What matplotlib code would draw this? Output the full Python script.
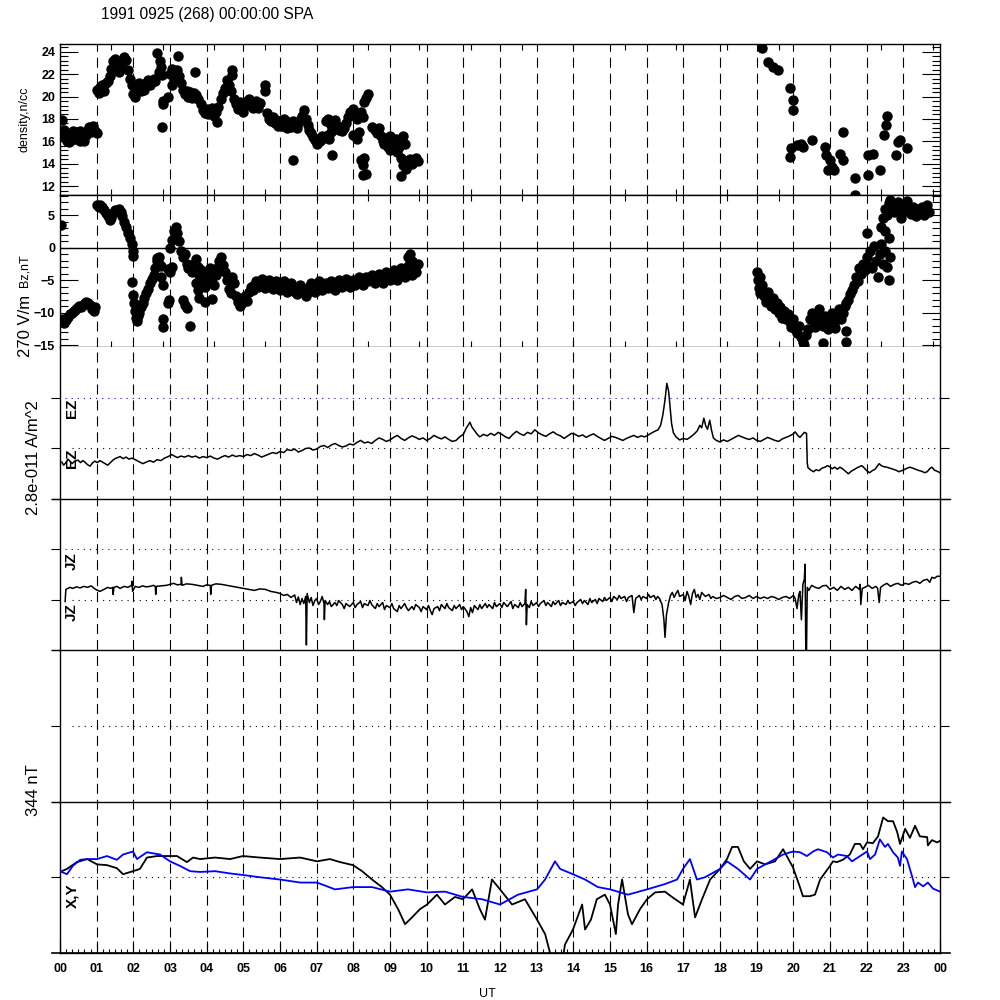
import matplotlib
matplotlib.use("Agg")
import matplotlib.pyplot as plt
import numpy as np

plt.rcParams['font.family'] = ['Liberation Sans', 'DejaVu Sans']
plt.rcParams['lines.scale_dashes'] = False

# density scatter (hour, n/cc)
dens_t = [0.05, 0.1, 0.12, 0.15, 0.2, 0.25, 0.3, 0.35, 0.4, 0.45, 0.5, 0.55, 0.6, 0.65, 0.7, 0.75, 0.8, 0.85, 0.9, 0.95, 1.0, 0.55, 0.35, 0.25,
          1.0, 1.05, 1.1, 1.15, 1.2, 1.25, 1.3, 1.35, 1.4, 1.45, 1.5, 1.55, 1.6, 1.65, 1.7, 1.75, 1.8, 1.85, 1.9, 1.95, 2.0, 2.05, 2.1, 2.15,
          2.2, 2.25, 2.3, 2.35, 2.4, 2.45, 2.5, 2.55, 2.6, 2.65, 2.7, 2.72, 2.75, 2.78, 2.8, 2.82, 2.78, 2.95,
          3.0, 3.05, 3.1, 3.15, 3.2, 3.25, 3.3, 3.05, 3.22, 3.35, 3.4, 3.45, 3.5, 3.55, 3.6, 3.65, 3.7, 3.75, 3.68,
          3.85, 3.9, 3.95, 4.0, 4.05, 4.1, 4.15, 4.2, 4.25, 4.3, 4.28, 4.4, 4.45, 4.5, 4.55, 4.6, 4.65, 4.68, 4.7,
          4.75, 4.8, 4.85, 4.9, 4.95, 5.0, 5.05, 5.1, 5.15, 5.2, 5.25, 5.3, 5.35, 5.4, 5.45, 5.58, 5.6,
          5.65, 5.7, 5.75, 5.8, 5.85, 5.9, 5.95, 6.0, 6.05, 6.1, 6.15, 6.2, 6.25, 6.3, 6.35, 6.4, 6.45, 6.5, 6.36,
          6.55, 6.6, 6.65, 6.7, 6.75, 6.8, 6.85, 6.9, 6.95, 7.0, 7.05, 7.1, 7.15, 7.2, 7.3, 7.35, 7.4, 7.42,
          7.25, 7.3, 7.4, 7.45, 7.5, 7.55, 7.6, 7.65, 7.7, 7.75, 7.8, 7.85, 7.9,
          7.95, 8.0, 8.05, 8.1, 8.2, 8.25, 8.3, 8.35, 8.4, 8.2, 8.25, 8.3, 8.27, 8.35, 8.0, 8.1, 8.15,
          8.5, 8.6, 8.65, 8.7, 8.75, 8.8, 8.85, 8.9, 8.95, 9.0, 9.05, 9.1, 9.15, 9.2,
          9.0, 9.1, 9.2, 9.3, 9.35, 9.4, 9.45, 9.5, 9.55, 9.6, 9.65, 9.7, 9.75, 9.3, 9.25, 9.35, 9.4,
          19.15, 19.3, 19.45, 19.58, 19.9, 20.0, 20.0, 19.95, 19.9, 20.1, 20.2, 20.25, 20.5, 20.85, 20.9, 21.0, 21.05, 21.1, 20.95,
          21.35, 21.27, 21.35, 21.68, 21.68, 22.03, 22.17, 22.03, 22.36, 22.55, 22.53, 22.47, 22.85, 22.8, 23.1, 22.9]
dens_v = [17.9, 17.0, 16.5, 16.2, 16.0, 16.4, 16.1, 16.6, 16.2, 16.8, 16.3, 16.9, 16.5, 16.0, 16.6, 17.0, 17.3, 16.8, 17.4, 16.9, 16.7, 16.0, 16.9, 15.9,
          20.6, 20.3, 20.9, 21.0, 20.5, 21.2, 21.4, 21.8, 22.5, 23.2, 23.4, 22.8, 22.2, 23.0, 22.6, 23.5, 23.3, 22.4, 21.6, 21.0, 20.2, 20.0, 20.8, 21.2,
          20.5, 21.0, 20.6, 21.2, 21.5, 21.0, 21.3, 21.6, 21.4, 23.9, 22.2, 23.2, 22.6, 21.9, 19.3, 19.6, 17.3, 20.0,
          22.0, 22.5, 21.5, 22.2, 22.4, 21.8, 21.2, 21.0, 23.6, 20.6, 20.2, 20.5, 20.0, 20.4, 19.9, 20.3, 20.1, 19.8, 22.2,
          19.3, 18.8, 18.5, 18.9, 18.4, 18.7, 19.0, 18.3, 18.6, 19.1, 17.7, 19.8, 20.3, 20.8, 21.5, 21.0, 20.5, 22.4, 21.9,
          19.8, 19.3, 18.9, 19.5, 19.0, 18.6, 19.2, 19.6, 19.8, 19.4, 19.0, 19.3, 19.6, 19.0, 19.4, 21.0, 20.5,
          18.5, 18.0, 17.8, 18.2, 17.6, 17.9, 17.4, 17.8, 17.4, 18.0, 17.5, 17.2, 17.7, 17.3, 17.8, 17.5, 17.2, 17.6, 14.3,
          17.9, 18.3, 18.8, 18.0, 17.5, 17.0, 16.7, 16.4, 16.1, 15.8, 16.2, 16.0, 16.5, 16.3, 16.6, 16.2, 16.8, 14.8,
          17.8, 18.0, 17.5, 17.2, 17.9, 17.4, 17.0, 17.3, 16.9, 17.2, 17.6, 18.2, 18.6,
          18.5, 18.9, 18.3, 18.0, 18.6, 18.2, 19.5, 19.9, 20.2, 14.3, 13.9, 14.5, 13.0, 13.1, 16.6, 16.2, 16.8,
          17.3, 17.0, 16.7, 17.2, 16.5, 16.0, 15.8, 16.3, 15.5, 15.2, 15.9, 15.6, 16.2, 15.0,
          16.5, 15.3, 16.0, 14.5, 13.9, 14.2, 13.5, 14.0, 14.4, 14.0, 14.3, 14.5, 14.2, 12.9, 15.5, 16.5, 15.8,
          24.3, 23.1, 22.6, 22.4, 20.8, 19.7, 18.8, 15.4, 14.6, 15.7, 15.8, 15.5, 16.1, 15.5, 14.8, 14.3, 13.7, 13.4, 13.4,
          16.8, 14.9, 14.3, 12.7, 11.2, 14.8, 14.9, 13.0, 13.4, 18.3, 17.5, 16.6, 15.9, 14.8, 15.4, 16.1]

# Bz scatter (hour, nT)
bz_t = [0.03, 0.08, 0.12, 0.17, 0.22, 0.27, 0.32, 0.37, 0.42, 0.47, 0.52, 0.57, 0.62, 0.67, 0.72, 0.77, 0.82, 0.87, 0.92, 0.95,
        1.0, 1.05, 1.1, 1.15, 1.2, 1.25, 1.3, 1.35, 1.4, 1.45, 1.5, 1.55, 1.6, 1.65, 1.7, 1.75, 1.8, 1.85, 1.9, 1.95, 1.98, 2.0,
        1.97, 2.0, 2.02, 2.05, 2.08, 2.1, 2.12, 2.15, 2.2, 2.25, 2.3, 2.35, 2.4, 2.45, 2.5, 2.55, 2.6, 2.65, 2.7, 2.75,
        2.65, 2.7, 2.75, 2.8, 2.82, 2.8, 2.95, 2.97, 2.95, 3.0, 3.05,
        3.0, 3.05, 3.1, 3.15, 3.2, 3.25, 3.3, 3.35, 3.4, 3.45, 3.5, 3.55, 3.6, 3.65, 3.7, 3.75, 3.8,
        3.35, 3.4, 3.45, 3.7, 3.75, 3.8, 3.55,
        3.85, 3.9, 3.95, 4.0, 4.05, 4.1, 4.15, 4.2, 4.25, 4.3, 4.35, 4.4, 4.45, 4.5, 4.55, 4.6, 4.65, 4.7, 4.75, 4.8, 4.85, 4.9, 4.95, 5.0,
        3.95, 4.15,
        5.05, 5.1, 5.15, 5.2, 5.25, 5.3, 5.35, 5.4, 5.45, 5.5, 5.55, 5.6, 5.65, 5.7, 5.75, 5.8, 5.85, 5.9, 5.95, 6.0,
        6.05, 6.1, 6.15, 6.2, 6.25, 6.3, 6.35, 6.4, 6.45, 6.5, 6.55, 6.6, 6.65, 6.7, 6.75, 6.8, 6.85, 6.9, 6.95, 7.0,
        7.05, 7.1, 7.15, 7.2, 7.25, 7.3, 7.35, 7.4, 7.45, 7.5, 7.55, 7.6, 7.65, 7.7, 7.75, 7.8, 7.85, 7.9, 7.95, 8.0,
        8.05, 8.1, 8.15, 8.2, 8.25, 8.3, 8.35, 8.4, 8.45, 8.5, 8.55, 8.6, 8.65, 8.7, 8.75, 8.8, 8.85, 8.9, 8.95, 9.0,
        9.05, 9.1, 9.15, 9.2, 9.25, 9.3, 9.35, 9.4, 9.45, 9.5, 9.55, 9.6, 9.65, 9.7, 9.75, 9.5, 9.55, 9.6,
        19.0, 19.03, 19.05, 19.08, 19.1, 19.15, 19.2, 19.25, 19.3, 19.35, 19.4, 19.45, 19.5, 19.55, 19.6, 19.65, 19.7, 19.75, 19.8, 19.85,
        19.9, 19.95, 20.0, 20.05, 20.1, 20.15, 20.2, 20.25, 20.3, 20.35, 20.4, 20.45, 20.5, 20.55, 20.6, 20.65, 20.7, 20.75, 20.8, 20.8,
        20.85, 20.9, 20.95, 21.0, 21.05, 21.1, 21.15, 21.2, 21.25, 21.3, 21.35, 21.4, 21.45, 21.45, 21.45, 21.5,
        21.55, 21.6, 21.65, 21.7, 21.75, 21.8, 21.85, 21.9, 21.95, 22.0, 22.0, 22.05, 22.1, 22.15, 22.2, 22.25, 22.3, 22.35, 22.4, 22.4,
        22.45, 22.5, 22.5, 22.55, 22.6, 22.6, 22.65, 22.45, 22.5, 22.55, 22.6, 22.65, 22.7, 22.75, 22.8, 22.85, 22.9, 22.95, 23.0,
        23.05, 23.1, 23.15, 23.2, 23.25, 23.3, 23.35, 23.4, 23.45, 23.5, 23.55, 23.6, 23.65, 23.7]
bz_v = [3.5, -11.0, -11.6, -11.2, -10.7, -10.2, -10.0, -9.8, -9.6, -9.3, -9.0, -9.2, -8.8, -8.6, -8.4, -8.6, -8.9, -9.4, -9.8, -9.2,
        6.6, 6.2, 6.5, 6.2, 5.8, 5.3, 4.8, 4.3, 4.6, 5.4, 5.8, 5.6, 6.0, 5.5, 4.8, 3.9, 3.2, 2.2, 1.5, 0.5, -0.5, -1.3,
        -5.3, -7.3, -8.5, -9.8, -10.8, -11.3, -10.5, -10.0, -9.2, -8.5, -7.8, -7.0, -6.3, -5.5, -4.8, -4.2, -3.2, -2.0, -1.5, -2.8,
        -1.6, -2.5, -4.5, -5.8, -11.0, -12.2, -8.5, -8.0, -3.3, -3.8, -3.0,
        0.0, 1.2, 2.5, 3.2, 2.2, 1.0, -0.5, -1.5, -1.0, -2.5, -3.2, -2.8, -3.8, -2.5, -1.8, -3.0, -4.2,
        -8.0, -8.8, -9.3, -5.5, -6.5, -7.8, -12.0,
        -3.5, -4.8, -6.0, -5.2, -4.0, -3.2, -4.5, -5.8, -4.2, -3.0, -2.0, -1.5, -2.6, -3.8, -5.0, -6.3, -7.0, -4.5, -5.5, -7.5, -8.3, -9.0, -8.5, -8.0,
        -8.3, -7.9,
        -7.5, -8.2, -6.8, -6.0, -6.5, -5.8, -5.2, -6.0, -5.5, -4.8, -5.5, -6.2, -5.8, -5.0, -5.6, -6.3, -5.9, -5.2, -6.0, -6.5,
        -5.8, -5.2, -6.0, -6.8, -6.2, -5.5, -6.0, -6.8, -7.2, -6.5, -5.8, -6.2, -6.8, -7.5, -6.8, -6.0, -5.5, -6.2, -6.8, -6.0,
        -5.2, -5.8, -6.5, -6.0, -5.5, -6.2, -5.8, -5.2, -5.8, -6.5, -5.8, -5.0, -5.5, -6.0, -5.3, -4.8, -5.5, -6.0, -5.5, -5.0,
        -5.8, -5.2, -4.6, -5.3, -5.8, -5.0, -4.5, -5.2, -4.8, -4.2, -4.8, -5.5, -4.6, -4.0, -4.8, -5.4, -4.5, -3.8, -4.5, -5.0,
        -4.2, -3.5, -4.3, -5.0, -4.0, -3.2, -3.8, -4.5, -3.5, -2.8, -3.5, -4.2, -3.0, -3.8, -2.5, -1.5, -1.0, -2.0,
        -3.8, -5.0, -6.2, -4.5, -7.0, -5.8, -7.5, -8.3, -6.8, -8.0, -9.0, -7.8, -9.5, -8.5, -10.0, -9.2, -10.8, -9.8, -11.0, -10.2,
        -11.5, -12.2, -11.0, -12.5, -13.2, -12.0, -13.8, -14.5, -15.0, -13.5, -12.5, -11.0, -10.0, -11.5, -12.2, -10.8, -9.5, -11.0, -12.0, -14.7,
        -10.5, -11.5, -12.5, -11.0, -10.0, -11.8, -12.3, -10.8, -9.5, -11.0, -10.0, -9.0, -8.5, -12.8, -14.5, -8.0,
        -7.2, -6.5, -5.8, -4.5, -5.2, -3.2, -4.0, -2.5, -3.5, -1.5, 2.3, -2.8, -0.5, -3.2, 0.2, -2.0, -4.5, -1.0, 0.5, 3.2,
        -2.5, 2.5, -0.5, -3.0, -5.0, 1.5, -1.5, 4.5, 6.0, 5.0, 6.8, 7.3, 6.2, 5.5, 6.5, 7.0, 5.8, 4.5, 5.5,
        6.5, 7.2, 6.0, 5.2, 6.3, 5.5, 4.8, 6.0, 5.5, 6.2, 5.0, 5.8, 6.5, 5.5]

# EZ trace (hour, in units of the 270 V/m scale)
ez_t = [0.05, 0.1, 0.15, 0.22, 0.28, 0.33, 0.4, 0.49, 0.56, 0.62, 0.68, 0.75, 0.82, 0.88, 0.95, 1.02, 1.09, 1.16, 1.23, 1.3,
        1.36, 1.43, 1.5, 1.57, 1.64, 1.72, 1.8, 1.88, 1.96, 2.05, 2.15, 2.26, 2.35, 2.45, 2.55, 2.65, 2.75, 2.85, 2.95, 3.05,
        3.12, 3.2, 3.3, 3.4, 3.5, 3.6, 3.7, 3.8, 3.9, 4.0, 4.1, 4.2, 4.3, 4.4, 4.5, 4.6, 4.7, 4.8, 4.9, 5.0,
        5.1, 5.2, 5.3, 5.4, 5.5, 5.6, 5.7, 5.8, 5.9, 6.0, 6.1, 6.2, 6.3, 6.4, 6.5, 6.6, 6.7, 6.8, 6.9, 7.0,
        7.1, 7.2, 7.3, 7.4, 7.5, 7.6, 7.7, 7.8, 7.9, 8.0, 8.1, 8.2, 8.3, 8.4, 8.5, 8.6, 8.7, 8.8, 8.9, 9.0,
        9.1, 9.2, 9.3, 9.4, 9.5, 9.6, 9.7, 9.8, 9.9, 10.0, 10.1, 10.2, 10.3, 10.4, 10.5, 10.6, 10.7, 10.8, 10.9, 11.0,
        11.07, 11.13, 11.18, 11.23, 11.3, 11.38, 11.45, 11.55, 11.65, 11.75, 11.85, 11.95, 12.05, 12.15, 12.25, 12.35, 12.45, 12.55, 12.65, 12.75,
        12.85, 12.95, 13.05, 13.15, 13.25, 13.35, 13.45, 13.55, 13.65, 13.75, 13.85, 13.95, 14.05, 14.15, 14.25, 14.35, 14.45, 14.55, 14.65, 14.75,
        14.85, 14.95, 15.05, 15.15, 15.25, 15.35, 15.45, 15.55, 15.65, 15.75, 15.85, 15.95, 16.05, 16.14, 16.22, 16.31, 16.38, 16.44, 16.5, 16.55,
        16.6, 16.64, 16.68, 16.73, 16.8, 16.9, 17.0, 17.1, 17.2, 17.3, 17.38, 17.45, 17.5, 17.56, 17.61, 17.66, 17.72, 17.77, 17.82, 17.9,
        18.0, 18.1, 18.2, 18.3, 18.4, 18.5, 18.6, 18.7, 18.8, 18.9, 19.0, 19.1, 19.2, 19.3, 19.4, 19.5, 19.6, 19.7, 19.8, 19.9,
        20.0, 20.05, 20.12, 20.18, 20.25, 20.3, 20.36, 20.38, 20.4, 20.48, 20.55, 20.62, 20.7, 20.78, 20.86, 20.93, 20.99, 21.06, 21.13, 21.2,
        21.27, 21.34, 21.42, 21.5, 21.58, 21.65, 21.72, 21.8, 21.87, 21.94, 22.0, 22.08, 22.15, 22.23, 22.3, 22.34, 22.4, 22.47, 22.55, 22.64,
        22.72, 22.8, 22.88, 22.95, 23.02, 23.1, 23.18, 23.26, 23.33, 23.4, 23.5, 23.58, 23.65, 23.72, 23.78, 23.85, 23.92, 24.0]
ez_v = [-0.28, -0.34, -0.30, -0.22, -0.27, -0.31, -0.26, -0.24, -0.29, -0.25, -0.28, -0.33, -0.36, -0.30, -0.26, -0.29, -0.25, -0.28, -0.31, -0.34,
        -0.30, -0.25, -0.21, -0.19, -0.17, -0.21, -0.18, -0.22, -0.20, -0.23, -0.27, -0.31, -0.28, -0.25, -0.28, -0.23, -0.25, -0.20, -0.17, -0.13,
        -0.16, -0.19, -0.16, -0.18, -0.15, -0.18, -0.16, -0.20, -0.17, -0.19, -0.16, -0.20, -0.22, -0.18, -0.15, -0.18, -0.14, -0.17, -0.15, -0.17,
        -0.13, -0.15, -0.11, -0.14, -0.18, -0.15, -0.12, -0.09, -0.11, -0.07, -0.09, -0.03, -0.05, -0.02, -0.08, -0.05, -0.01, 0.00, -0.04, -0.02,
        0.03, 0.05, 0.01, 0.06, 0.09, 0.05, 0.02, 0.04, 0.08, 0.06, 0.11, 0.15, 0.10, 0.12, 0.09, 0.15, 0.20, 0.17, 0.13, 0.16,
        0.21, 0.25, 0.19, 0.15, 0.20, 0.24, 0.21, 0.17, 0.20, 0.15, 0.19, 0.25, 0.21, 0.18, 0.22, 0.17, 0.13, 0.15, 0.22, 0.27,
        0.38, 0.45, 0.51, 0.42, 0.35, 0.27, 0.22, 0.27, 0.24, 0.29, 0.25, 0.31, 0.27, 0.22, 0.19, 0.27, 0.33, 0.28, 0.25, 0.31,
        0.28, 0.36, 0.30, 0.26, 0.23, 0.28, 0.32, 0.27, 0.24, 0.19, 0.24, 0.29, 0.27, 0.23, 0.26, 0.21, 0.25, 0.28, 0.23, 0.19,
        0.15, 0.19, 0.23, 0.21, 0.18, 0.15, 0.19, 0.22, 0.25, 0.21, 0.24, 0.22, 0.26, 0.30, 0.33, 0.36, 0.45, 0.65, 0.95, 1.28,
        1.12, 0.80, 0.48, 0.30, 0.22, 0.16, 0.19, 0.17, 0.22, 0.28, 0.34, 0.45, 0.40, 0.59, 0.44, 0.37, 0.55, 0.35, 0.20, 0.15,
        0.12, 0.16, 0.13, 0.17, 0.21, 0.25, 0.22, 0.19, 0.17, 0.20, 0.15, 0.13, 0.17, 0.21, 0.18, 0.15, 0.13, 0.18, 0.21, 0.24,
        0.28, 0.32, 0.25, 0.21, 0.27, 0.31, 0.29, -0.30, -0.39, -0.44, -0.47, -0.43, -0.45, -0.40, -0.38, -0.35, -0.37, -0.41, -0.38, -0.42,
        -0.38, -0.41, -0.46, -0.51, -0.46, -0.43, -0.40, -0.37, -0.35, -0.40, -0.45, -0.49, -0.45, -0.42, -0.35, -0.31, -0.35, -0.37, -0.38, -0.40,
        -0.42, -0.44, -0.47, -0.45, -0.43, -0.40, -0.38, -0.40, -0.42, -0.44, -0.46, -0.49, -0.47, -0.41, -0.38, -0.44, -0.46, -0.49]

# JZ trace (hour, in units of the 2.8e-011 A/m^2 scale)
jz_t = [0.14, 0.16, 0.27, 0.35, 0.45, 0.55, 0.65, 0.75, 0.85, 0.97, 1.09, 1.2, 1.3, 1.38, 1.44, 1.45, 1.47, 1.55, 1.64, 1.75,
        1.85, 1.95, 1.96, 1.98, 2.05, 2.15, 2.25, 2.35, 2.45, 2.55, 2.6, 2.61, 2.63, 2.75, 2.9, 3.0, 3.1, 3.2, 3.3, 3.31,
        3.33, 3.45, 3.6, 3.75, 3.9, 4.0, 4.1, 4.11, 4.13, 4.25, 4.4, 4.55, 4.7, 4.85, 5.0, 5.15, 5.3, 5.45, 5.6, 5.75,
        5.9, 6.0, 6.1, 6.2, 6.3, 6.4, 6.45, 6.5, 6.55, 6.6, 6.65, 6.7, 6.72, 6.74, 6.8, 6.85, 6.9, 6.95, 7.0, 7.05,
        7.1, 7.15, 7.2, 7.21, 7.23, 7.3, 7.35, 7.4, 7.5, 7.55, 7.6, 7.7, 7.75, 7.8, 7.9, 8.0, 8.05, 8.1, 8.2, 8.25,
        8.3, 8.4, 8.45, 8.5, 8.6, 8.65, 8.7, 8.8, 8.85, 8.9, 9.0, 9.05, 9.1, 9.2, 9.25, 9.3, 9.4, 9.45, 9.5, 9.6,
        9.65, 9.7, 9.8, 9.85, 9.9, 10.0, 10.05, 10.1, 10.15, 10.2, 10.3, 10.35, 10.4, 10.5, 10.55, 10.6, 10.7, 10.75, 10.8, 10.9,
        10.95, 11.0, 11.1, 11.15, 11.2, 11.25, 11.3, 11.4, 11.45, 11.5, 11.6, 11.65, 11.7, 11.8, 11.85, 11.9, 12.0, 12.05, 12.1, 12.2,
        12.3, 12.35, 12.4, 12.5, 12.55, 12.6, 12.68, 12.7, 12.72, 12.74, 12.8, 12.85, 12.9, 13.0, 13.05, 13.1, 13.2, 13.25, 13.3, 13.4,
        13.45, 13.5, 13.6, 13.65, 13.7, 13.8, 13.85, 13.9, 14.0, 14.05, 14.1, 14.2, 14.25, 14.3, 14.4, 14.45, 14.5, 14.6, 14.65, 14.7,
        14.8, 14.85, 14.9, 15.0, 15.05, 15.1, 15.2, 15.25, 15.3, 15.4, 15.45, 15.5, 15.6, 15.65, 15.7, 15.8, 15.85, 15.9, 16.0, 16.05,
        16.1, 16.2, 16.25, 16.3, 16.35, 16.42, 16.47, 16.5, 16.54, 16.6, 16.65, 16.7, 16.75, 16.8, 16.85, 16.9, 17.0, 17.05, 17.1, 17.15,
        17.2, 17.25, 17.3, 17.35, 17.4, 17.45, 17.5, 17.6, 17.7, 17.75, 17.8, 17.9, 18.0, 18.1, 18.2, 18.3, 18.4, 18.5, 18.6, 18.7,
        18.8, 18.9, 19.0, 19.1, 19.2, 19.3, 19.4, 19.5, 19.6, 19.7, 19.8, 19.9, 20.0, 20.05, 20.1, 20.15, 20.18, 20.22, 20.26, 20.3,
        20.32, 20.34, 20.36, 20.38, 20.42, 20.5, 20.6, 20.7, 20.8, 20.9, 21.0, 21.1, 21.2, 21.3, 21.4, 21.5, 21.6, 21.7, 21.8, 21.82,
        21.84, 21.88, 21.95, 22.05, 22.15, 22.25, 22.3, 22.34, 22.38, 22.45, 22.55, 22.65, 22.75, 22.85, 22.95, 23.05, 23.15, 23.25, 23.35, 23.45,
        23.55, 23.65, 23.72, 23.78, 23.85, 23.92, 24.0]
jz_v = [-0.04, 0.20, 0.24, 0.22, 0.25, 0.23, 0.26, 0.24, 0.27, 0.20, 0.16, 0.20, 0.24, 0.22, 0.24, 0.10, 0.24, 0.26, 0.22, 0.26,
        0.24, 0.28, 0.36, 0.16, 0.26, 0.24, 0.27, 0.25, 0.26, 0.28, 0.26, 0.10, 0.26, 0.27, 0.28, 0.30, 0.32, 0.29, 0.30, 0.44,
        0.28, 0.31, 0.30, 0.28, 0.26, 0.29, 0.28, 0.10, 0.28, 0.31, 0.30, 0.28, 0.26, 0.24, 0.22, 0.20, 0.18, 0.21, 0.20, 0.16,
        0.14, 0.12, 0.08, 0.10, 0.04, 0.09, -0.06, 0.05, -0.10, 0.02, -0.08, 0.06, -0.90, 0.12, -0.06, 0.04, -0.12, -0.02, 0.02, -0.10,
        -0.04, 0.06, -0.08, -0.40, -0.02, -0.10, -0.04, -0.14, -0.06, -0.12, -0.02, -0.10, -0.18, -0.08, -0.14, -0.06, -0.16, -0.10, -0.04, -0.16,
        -0.08, -0.12, -0.02, -0.10, -0.18, -0.08, -0.14, -0.06, -0.20, -0.12, -0.16, -0.08, -0.18, -0.24, -0.12, -0.18, -0.08, -0.16, -0.22, -0.14,
        -0.20, -0.10, -0.16, -0.24, -0.14, -0.20, -0.12, -0.22, -0.30, -0.18, -0.14, -0.22, -0.10, -0.18, -0.08, -0.16, -0.22, -0.12, -0.18, -0.10,
        -0.20, -0.14, -0.24, -0.34, -0.16, -0.26, -0.12, -0.20, -0.10, -0.18, -0.08, -0.16, -0.10, -0.18, -0.06, -0.14, -0.08, -0.16, -0.06, -0.14,
        -0.04, -0.18, -0.10, -0.16, -0.06, -0.14, -0.08, 0.20, -0.50, -0.10, -0.16, -0.04, -0.12, -0.06, -0.14, -0.08, -0.02, -0.12, -0.06, -0.14,
        -0.04, -0.10, -0.02, -0.12, -0.06, -0.10, -0.02, -0.08, -0.04, -0.12, -0.06, 0.00, -0.08, -0.02, -0.10, 0.02, -0.06, 0.00, -0.08, 0.02,
        -0.04, 0.04, -0.02, 0.04, -0.04, 0.06, 0.00, 0.08, 0.02, 0.06, -0.04, 0.04, 0.08, -0.26, 0.02, 0.08, 0.00, 0.06, 0.02, 0.10,
        0.04, 0.08, 0.00, 0.06, 0.02, -0.10, -0.40, -0.75, -0.30, -0.06, 0.08, 0.14, 0.04, 0.12, 0.18, 0.06, 0.10, -0.02, 0.16, 0.06,
        -0.10, 0.12, 0.20, 0.04, 0.10, 0.00, 0.14, 0.06, 0.10, 0.02, 0.06, 0.02, 0.04, 0.08, 0.04, 0.00, 0.06, 0.08, 0.02, 0.04,
        0.08, 0.02, 0.06, 0.02, 0.05, 0.02, 0.06, 0.04, 0.00, 0.04, 0.06, 0.02, 0.08, 0.02, -0.18, 0.10, 0.16, -0.40, 0.30, 0.40,
        0.70, -1.0, -1.0, 0.24, 0.18, 0.28, 0.24, 0.22, 0.27, 0.28, 0.20, 0.24, 0.18, 0.26, 0.20, 0.24, 0.18, 0.26, 0.20, 0.30,
        -0.10, 0.22, 0.24, 0.28, 0.22, 0.26, 0.22, -0.06, 0.24, 0.28, 0.32, 0.26, 0.30, 0.32, 0.28, 0.32, 0.30, 0.34, 0.36, 0.32,
        0.38, 0.40, 0.34, 0.44, 0.42, 0.46, 0.46]

# magnetic perturbations X (black) and Y (blue), in units of the 344 nT scale
x_t = [0.0, 0.19, 0.46, 0.74, 1.01, 1.28, 1.55, 1.72, 1.99, 2.18, 2.37, 2.65, 2.92, 3.19, 3.46, 3.63, 3.82, 4.23, 4.64, 4.99,
       5.45, 6.0, 6.55, 7.01, 7.36, 7.64, 7.99, 8.24, 8.51, 8.78, 9.0, 9.22, 9.41, 9.6, 9.82, 10.01, 10.28, 10.5, 10.77, 10.99,
       11.24, 11.45, 11.59, 11.78, 12.0, 12.33, 12.68, 13.01, 13.23, 13.36, 13.42, 13.64, 13.77, 13.99, 14.24, 14.32, 14.48, 14.64, 14.86, 15.0,
       15.16, 15.22, 15.33, 15.49, 15.6, 15.82, 16.01, 16.23, 16.5, 16.69, 16.99, 17.18, 17.32, 17.51, 17.73, 18.0, 18.19, 18.33, 18.49, 18.65,
       18.82, 19.01, 19.23, 19.5, 19.72, 19.99, 20.18, 20.26, 20.45, 20.59, 20.73, 21.0, 21.08, 21.19, 21.35, 21.54, 21.68, 21.82, 21.9, 22.01,
       22.17, 22.31, 22.45, 22.58, 22.72, 22.83, 22.91, 23.05, 23.18, 23.32, 23.45, 23.65, 23.67, 23.78, 23.92, 24.0]
x_v = [0.07, 0.11, 0.20, 0.24, 0.17, 0.16, 0.12, 0.04, 0.08, 0.11, 0.26, 0.28, 0.28, 0.28, 0.20, 0.26, 0.24, 0.26, 0.24, 0.28,
       0.26, 0.24, 0.26, 0.21, 0.24, 0.20, 0.16, 0.08, -0.03, -0.13, -0.23, -0.42, -0.62, -0.53, -0.42, -0.36, -0.23, -0.36, -0.26, -0.29,
       -0.16, -0.42, -0.56, -0.03, -0.16, -0.36, -0.29, -0.56, -0.75, -0.99, -1.30, -1.35, -0.89, -0.69, -0.36, -0.69, -0.56, -0.29, -0.23, -0.36,
       -0.75, -0.36, -0.03, -0.49, -0.62, -0.42, -0.29, -0.20, -0.19, -0.26, -0.36, -0.03, -0.53, -0.29, -0.03, 0.11, 0.24, 0.40, 0.40, 0.21,
       0.11, 0.21, 0.17, 0.21, 0.37, 0.13, -0.13, -0.25, -0.25, -0.23, -0.03, 0.15, 0.21, 0.20, 0.23, 0.30, 0.44, 0.44, 0.37, 0.46,
       0.45, 0.54, 0.79, 0.74, 0.74, 0.60, 0.44, 0.64, 0.52, 0.68, 0.54, 0.53, 0.42, 0.49, 0.46, 0.48]
y_t = [0.0, 0.19, 0.35, 0.55, 0.74, 1.01, 1.28, 1.55, 1.72, 1.99, 2.1, 2.37, 2.73, 3.0, 3.27, 3.55, 3.82, 4.23, 4.64, 4.99,
       5.45, 6.0, 6.55, 7.01, 7.5, 7.99, 8.51, 9.0, 9.49, 10.01, 10.5, 10.99, 11.51, 12.0, 12.49, 13.01, 13.23, 13.5, 13.64, 13.99,
       14.32, 14.67, 15.0, 15.49, 16.01, 16.5, 16.83, 16.99, 17.18, 17.37, 17.59, 18.0, 18.19, 18.49, 18.82, 19.01, 19.5, 19.72, 19.99, 20.18,
       20.37, 20.54, 20.67, 20.92, 21.08, 21.22, 21.46, 21.6, 21.82, 22.01, 22.09, 22.23, 22.36, 22.5, 22.58, 22.72, 22.85, 22.91, 22.96, 23.1,
       23.24, 23.32, 23.4, 23.54, 23.67, 23.81, 24.0]
y_v = [0.08, 0.04, 0.15, 0.23, 0.24, 0.24, 0.28, 0.23, 0.30, 0.34, 0.24, 0.33, 0.30, 0.21, 0.15, 0.08, 0.07, 0.08, 0.05, 0.03,
       0.0, -0.03, -0.07, -0.07, -0.16, -0.13, -0.13, -0.19, -0.16, -0.20, -0.19, -0.26, -0.29, -0.36, -0.23, -0.16, -0.03, 0.21, 0.11, 0.04,
       -0.03, -0.13, -0.16, -0.23, -0.16, -0.09, -0.03, 0.11, 0.24, -0.03, 0.0, 0.11, 0.21, 0.11, -0.03, 0.11, 0.24, 0.30, 0.34, 0.33,
       0.28, 0.34, 0.37, 0.33, 0.26, 0.30, 0.28, 0.21, 0.28, 0.34, 0.24, 0.30, 0.50, 0.40, 0.44, 0.33, 0.26, 0.15, 0.34, 0.24,
       0.01, -0.13, -0.07, -0.12, -0.07, -0.15, -0.19]

hour_labels = ['%02d' % (h % 24) for h in range(25)]

# row layout of the lower block (rows of equal height, 0 = bottom)
XY_BASE, JZ_BASE, EZ_BASE = 1.5, 7.0, 10.0
XY_UNIT = 1.5

fig = plt.figure(figsize=(10, 10), dpi=100)
L, W = 0.06, 0.88
ax_n = fig.add_axes([L, 1 - 0.195, W, 0.151])
ax_b = fig.add_axes([L, 1 - 0.347, W, 0.152])
ax_l = fig.add_axes([L, 1 - 0.953, W, 0.606])

dash = (0, (7.2, 4.3))
dots = (0, (0.8, 3.6))
for ax in (ax_n, ax_b, ax_l):
    ax.set_xlim(0, 24)
    for h in range(1, 24):
        ax.axvline(h, color='black', lw=0.8, ls=dash, zorder=1)
    for s in ax.spines.values():
        s.set_linewidth(1.0)

# upper panels
ax_n.plot(dens_t, dens_v, 'o', color='black', ms=6.5, zorder=3)
ax_n.set_ylim(11.2, 24.7)
ax_n.set_yticks(np.arange(12, 25, 2))
ax_n.set_yticks(np.arange(11.6, 24.7, 0.4), minor=True)
ax_n.set_ylabel('density,n/cc', fontsize=9)

ax_b.plot(bz_t, bz_v, 'o', color='black', ms=6.5, zorder=3)
ax_b.axhline(0, color='black', lw=1.0, zorder=2)
ax_b.set_ylim(-15.3, 8.1)
ax_b.set_yticks([-15, -10, -5, 0, 5])
ax_b.set_yticks(np.arange(-15, 8.1, 1), minor=True)
ax_b.set_ylabel('Bz,nT', fontsize=9)

top_ticks = np.arange(1.4, 24, 1.4)
for ax in (ax_n, ax_b):
    ax.set_xticks(top_ticks)
    ax.set_xticklabels([])
    ax.tick_params(axis='x', which='major', direction='in', length=4, width=0.8, top=True, bottom=True)
    ax.tick_params(axis='y', which='major', direction='in', length=13, width=0.8, left=True, right=True,
                   labelsize=9, pad=3.5)
    ax.tick_params(axis='y', which='minor', direction='in', length=5.8, width=0.8, left=True, right=True)
    for lab in ax.get_yticklabels():
        lab.set_fontweight('bold')
    ax.yaxis.set_label_coords(-0.033, 0.5)

# lower block: EZ, JZ, X/Y
ax_l.set_ylim(0, 12)
ax_l.spines['top'].set_visible(False)
ax_l.plot(ez_t, EZ_BASE + np.array(ez_v), color='black', lw=1.1, zorder=3)
ax_l.plot(jz_t, JZ_BASE + np.array(jz_v), color='black', lw=1.1, zorder=3)
ax_l.plot(x_t, XY_BASE + XY_UNIT * np.array(x_v), color='black', lw=1.3, zorder=3)
ax_l.plot(y_t, XY_BASE + XY_UNIT * np.array(y_v), color='blue', lw=1.3, zorder=3)

for yv in (3, 6, 9):
    ax_l.axhline(yv, xmin=-8 / 880, xmax=1 + 10 / 880, color='black', lw=1.0, clip_on=False, zorder=2)
ax_l.axhline(0, xmin=-8 / 880, xmax=1 + 10 / 880, color='black', lw=1.2, clip_on=False, zorder=2)
for yv in (XY_BASE, 4.5, JZ_BASE, EZ_BASE):
    ax_l.axhline(yv, xmin=12 / 880, xmax=1, color='black', lw=0.8, ls=dots, zorder=2)
for yv in (JZ_BASE + 1, EZ_BASE + 1):
    ax_l.axhline(yv, xmin=5 / 880, xmax=1, color='blue', lw=0.8, ls=dots, zorder=2)

ax_l.set_yticks([1.5, 3, 4.5, 6, 7, 8, 9, 10, 11])
ax_l.set_yticklabels([])
ax_l.tick_params(axis='y', direction='out', length=6.5, width=0.8, left=True, right=True)

ax_l.set_xticks(range(25))
ax_l.set_xticklabels(hour_labels, fontsize=9, fontweight='bold')
ax_l.set_xticks(np.arange(0, 24.01, 1 / 6), minor=True)
ax_l.tick_params(axis='x', which='major', direction='in', length=8.6, width=0.8, pad=7)
ax_l.tick_params(axis='x', which='minor', direction='in', length=2.9, width=0.8)
ax_l.set_xlabel('UT', fontsize=9, labelpad=4)
ax_l.xaxis.set_label_coords(0.486, -0.058)

# panel texts
fig.text(0.101, 0.985, '1991 0925 (268) 00:00:00 SPA', fontsize=11.2, ha='left', va='center')
fig.text(0.025, 1 - 0.326, '270 V/m', fontsize=12, rotation=90, ha='center', va='center')
fig.text(0.034, 1 - 0.458, '2.8e-011 A/m^2', fontsize=12, rotation=90, ha='center', va='center')
fig.text(0.034, 1 - 0.790, '344 nT', fontsize=12, rotation=90, ha='center', va='center')
for yy, s in ((0.408, 'EZ'), (0.458, 'EZ'), (0.561, 'JZ'), (0.612, 'JZ'), (0.896, 'X,Y')):
    fig.text(0.072, 1 - yy, s, fontsize=11, fontweight='bold', rotation=90, ha='center', va='center')

fig.savefig('out.png', dpi=100)
